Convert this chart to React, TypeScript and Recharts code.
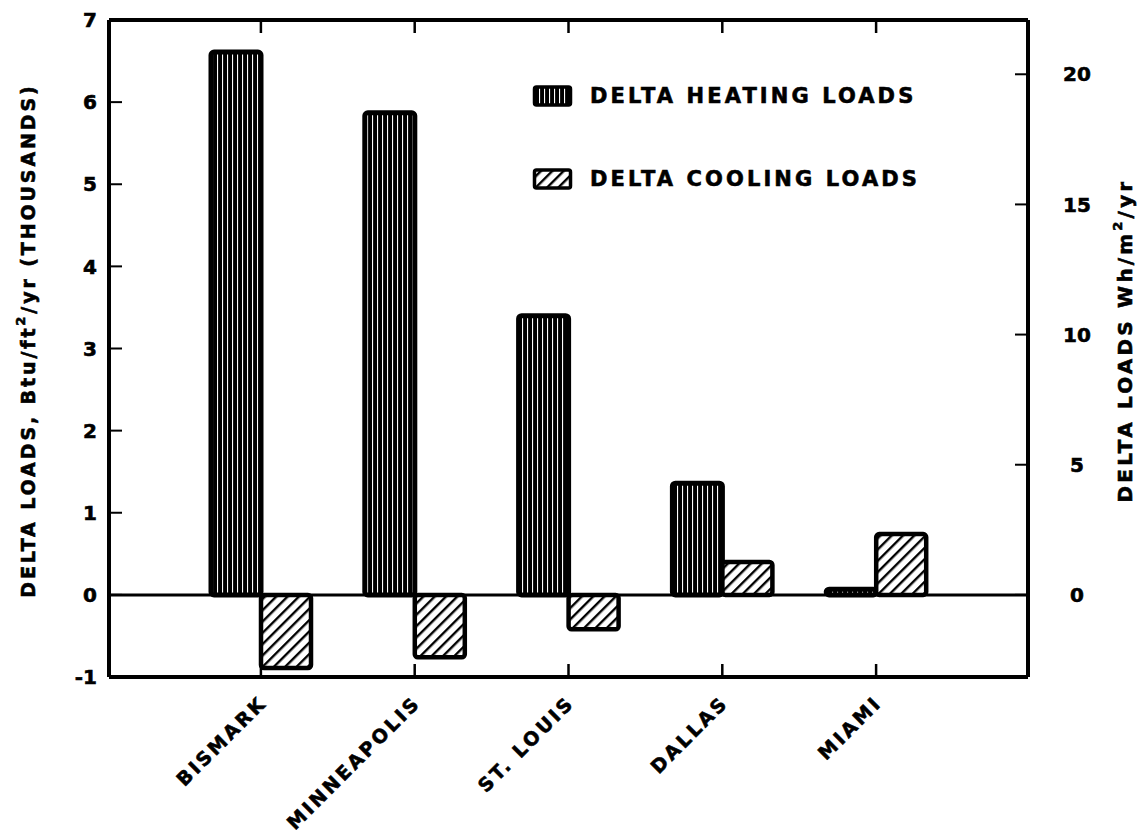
import React from 'react';
import { BarChart, Bar, XAxis, YAxis, ReferenceLine, Legend } from 'recharts';

const cities = ['BISMARK', 'MINNEAPOLIS', 'ST. LOUIS', 'DALLAS', 'MIAMI'];
const heatingLoads = [6.61, 5.87, 3.4, 1.36, 0.07];
const coolingLoads = [-0.89, -0.76, -0.42, 0.4, 0.74];
const leftTicks = [-1, 0, 1, 2, 3, 4, 5, 6, 7];
const rightTicks = [0, 5, 10, 15, 20];
const KWH_PER_KBTU = 3.155;

const data = cities.map((city, i) => ({ city, heating: heatingLoads[i], cooling: coolingLoads[i] }));

const FONT = '"DejaVu Sans", "Liberation Sans", Arial, sans-serif';
const HEAVY = { stroke: '#000', strokeWidth: 0.6 };

const BottomTick = (props: any) => {
  const { x, y, payload } = props;
  const tx = x + 7;
  const ty = y + 27;
  return (
    <g>
      <line x1={x} x2={x} y1={y} y2={y - 13} stroke="#000" strokeWidth={2.5} />
      <text
        x={tx}
        y={ty}
        transform={`rotate(-45 ${tx} ${ty})`}
        textAnchor="end"
        fontFamily={FONT}
        fontWeight="bold"
        fontSize={19}
        letterSpacing={2.8}
        fill="#000"
        {...HEAVY}
      >
        {payload.value}
      </text>
    </g>
  );
};

const TopTick = (props: any) => {
  const { x, y } = props;
  return <line x1={x} x2={x} y1={y} y2={y + 13} stroke="#000" strokeWidth={2.5} />;
};

const LeftTick = (props: any) => {
  const { x, y, payload } = props;
  return (
    <g>
      <line x1={x} x2={x + 13} y1={y} y2={y} stroke="#000" strokeWidth={2} />
      <text x={x - 12} y={y} dy="0.36em" textAnchor="end" fontFamily={FONT} fontWeight="bold" fontSize={20} fill="#000" {...HEAVY}>
        {payload.value}
      </text>
    </g>
  );
};

const RightTick = (props: any) => {
  const { x, y, payload } = props;
  return (
    <g>
      <line x1={x} x2={x - 13} y1={y} y2={y} stroke="#000" strokeWidth={2} />
      <text x={x + 49} y={y} dy="0.36em" textAnchor="middle" fontFamily={FONT} fontWeight="bold" fontSize={20} fill="#000" {...HEAVY}>
        {payload.value}
      </text>
    </g>
  );
};

const LeftLabel = (props: any) => {
  const vb = props.viewBox || { x: 0, y: 0, width: 0, height: 0 };
  const cx = vb.x + 28;
  const cy = vb.y + vb.height / 2 - 8;
  return (
    <text
      x={cx}
      y={cy}
      transform={`rotate(-90 ${cx} ${cy})`}
      textAnchor="middle"
      dominantBaseline="central"
      fontFamily={FONT}
      fontWeight="bold"
      fontSize={19}
      letterSpacing={2.9}
      fill="#000"
      {...HEAVY}
    >
      DELTA LOADS, Btu/ft
      <tspan dy={-8} fontSize={13}>2</tspan>
      <tspan dy={8}>/yr (THOUSANDS)</tspan>
    </text>
  );
};

const RightLabel = (props: any) => {
  const vb = props.viewBox || { x: 0, y: 0, width: 0, height: 0 };
  const cx = vb.x + vb.width - 12;
  const cy = vb.y + vb.height / 2 - 8;
  return (
    <text
      x={cx}
      y={cy}
      transform={`rotate(-90 ${cx} ${cy})`}
      textAnchor="middle"
      dominantBaseline="central"
      fontFamily={FONT}
      fontWeight="bold"
      fontSize={20}
      letterSpacing={3.2}
      fill="#000"
      {...HEAVY}
    >
      DELTA LOADS Wh/m
      <tspan dy={-8} fontSize={13}>2</tspan>
      <tspan dy={8}>/yr</tspan>
    </text>
  );
};

const legendItems = [
  { key: 'heating', label: 'DELTA HEATING LOADS', fill: 'url(#heatPattern)' },
  { key: 'cooling', label: 'DELTA COOLING LOADS', fill: 'url(#coolPattern)' },
];

const renderLegend = () => (
  <div
    style={{
      fontFamily: FONT,
      fontWeight: 'bold',
      fontSize: 21,
      letterSpacing: 3.1,
      color: '#000',
      WebkitTextStroke: '0.6px #000',
    }}
  >
    {legendItems.map((item, i) => (
      <div key={item.key} style={{ display: 'flex', alignItems: 'center', height: 24, marginTop: i === 0 ? 0 : 59 }}>
        <svg width={42} height={24} style={{ marginRight: 16 }}>
          <rect x={2.5} y={3} width={36} height={18} rx={2} fill={item.fill} stroke="#000" strokeWidth={3.5} />
        </svg>
        <span>{item.label}</span>
      </div>
    ))}
  </div>
);

export default function App() {
  return (
    <div style={{ position: 'absolute', left: 0, top: 0, width: 1137, height: 838, background: '#fff' }}>
      <svg width={0} height={0} style={{ position: 'absolute' }}>
        <defs>
          <pattern id="heatPattern" patternUnits="userSpaceOnUse" width={5} height={10}>
            <rect x={0} y={0} width={5} height={10} fill="#000" />
            <rect x={2} y={0} width={1.1} height={10} fill="#fff" />
          </pattern>
          <pattern id="coolPattern" patternUnits="userSpaceOnUse" width={8} height={8} patternTransform="rotate(45)">
            <rect x={0} y={0} width={8} height={8} fill="#fff" />
            <rect x={0} y={0} width={2.4} height={8} fill="#000" />
          </pattern>
        </defs>
      </svg>
      <BarChart
        width={1137}
        height={838}
        data={data}
        margin={{ top: 0, right: 0, bottom: 0, left: 0 }}
        barGap={0}
        barSize={50}
      >
        <XAxis
          xAxisId="bottom"
          dataKey="city"
          height={161}
          padding={{ left: 75, right: 75 }}
          axisLine={{ stroke: '#000', strokeWidth: 4 }}
          tickLine={false}
          tickSize={0}
          tickMargin={0}
          interval={0}
          tick={<BottomTick />}
        />
        <XAxis
          xAxisId="top"
          orientation="top"
          dataKey="city"
          height={20}
          padding={{ left: 75, right: 75 }}
          axisLine={{ stroke: '#000', strokeWidth: 4 }}
          tickLine={false}
          tickSize={0}
          tickMargin={0}
          interval={0}
          tick={<TopTick />}
        />
        <YAxis
          yAxisId="left"
          width={109}
          domain={[-1, 7]}
          ticks={leftTicks}
          allowDataOverflow
          axisLine={{ stroke: '#000', strokeWidth: 4 }}
          tickLine={false}
          tickSize={0}
          tickMargin={0}
          interval={0}
          tick={<LeftTick />}
          label={{ content: <LeftLabel /> }}
        />
        <YAxis
          yAxisId="right"
          orientation="right"
          width={109}
          domain={[-KWH_PER_KBTU, 7 * KWH_PER_KBTU]}
          ticks={rightTicks}
          allowDataOverflow
          axisLine={{ stroke: '#000', strokeWidth: 4 }}
          tickLine={false}
          tickSize={0}
          tickMargin={0}
          interval={0}
          tick={<RightTick />}
          label={{ content: <RightLabel /> }}
        />
        <Legend
          layout="vertical"
          align="center"
          verticalAlign="middle"
          content={renderLegend}
          wrapperStyle={{ position: 'absolute', left: 532, top: 84, width: 440 }}
        />
        <ReferenceLine yAxisId="left" xAxisId="bottom" y={0} stroke="#000" strokeWidth={3} />
        <Bar
          dataKey="heating"
          xAxisId="bottom"
          yAxisId="left"
          fill="url(#heatPattern)"
          stroke="#000"
          strokeWidth={5}
          radius={3}
          isAnimationActive={false}
        />
        <Bar
          dataKey="cooling"
          xAxisId="bottom"
          yAxisId="left"
          fill="url(#coolPattern)"
          stroke="#000"
          strokeWidth={4.5}
          radius={3}
          isAnimationActive={false}
        />
      </BarChart>
    </div>
  );
}
